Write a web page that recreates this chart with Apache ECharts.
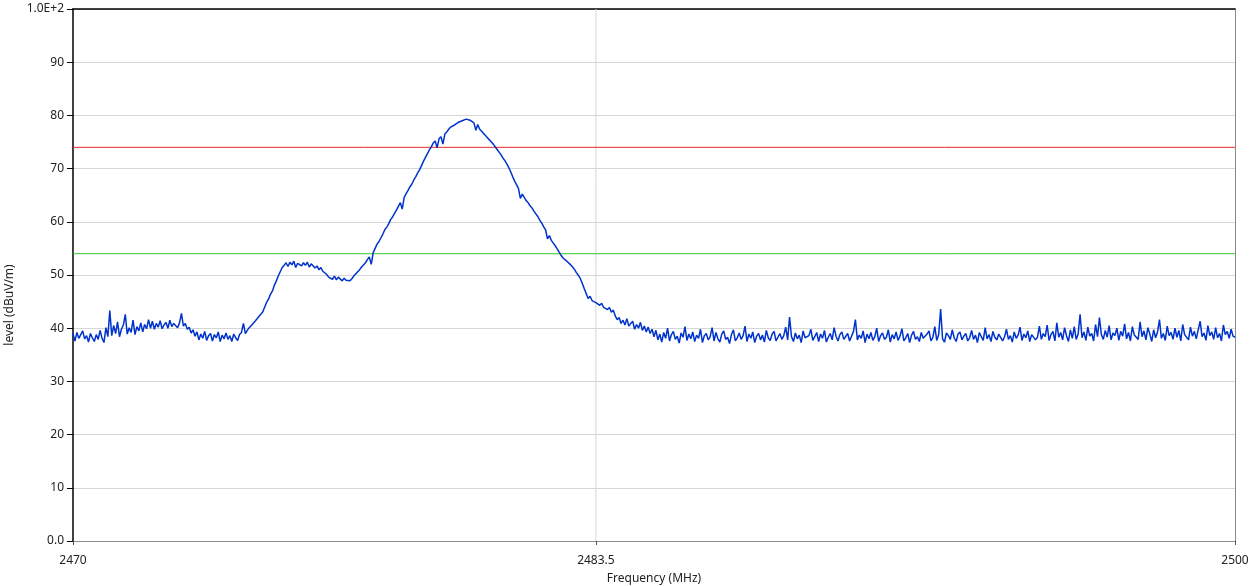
<!DOCTYPE html>
<html>
<head>
<meta charset="utf-8">
<script src="https://cdn.jsdelivr.net/npm/echarts@6/dist/echarts.min.js"></script>
<style>
html,body{margin:0;padding:0;background:#fff;}
#chart{width:1256px;height:586px;}
</style>
</head>
<body>
<div id="chart"></div>
<script>
// Frequency sweep: first point and spacing (MHz)
const freqStart = 2470;
const freqStep = 0.05;
// Measured level (dBuV/m), one value per 0.05 MHz, 2470.00 .. 2500.00
const level = [
38.9,37.6,39.2,38.1,37.8,39.5,38.0,38.6,37.4,39.0,38.2,37.5,38.8,37.9,39.6,38.1,37.3,40.1,38.4,43.3,
38.6,40.5,39.0,41.2,38.4,39.8,40.6,42.6,38.9,40.1,39.2,41.5,38.8,40.3,39.5,41.0,39.3,40.7,39.9,41.6,
40.0,41.3,39.8,40.9,40.2,41.4,39.9,40.6,41.1,40.0,41.5,40.3,40.9,41.2,40.1,41.0,42.8,40.4,40.9,39.8,
40.2,39.1,39.7,38.5,39.3,37.8,38.9,38.1,39.4,37.7,38.6,39.0,37.6,38.8,38.2,39.3,37.5,38.7,38.0,39.1,
37.9,38.6,37.5,38.9,38.2,37.7,38.8,39.2,40.9,39.0,39.6,40.1,39.8,40.9,41.3,41.0,42.2,42.6,43.1,44.0,
44.9,45.5,46.4,47.0,48.1,48.9,49.8,50.6,51.4,51.8,52.3,51.6,52.4,51.9,52.6,51.4,52.2,52.5,51.7,52.3,
51.8,52.4,51.5,52.1,51.9,51.3,51.7,51.0,51.4,50.7,50.9,50.1,49.6,49.9,49.2,49.8,49.1,49.6,49.4,48.9,
49.4,49.0,48.7,48.9,49.3,49.8,50.1,50.6,51.0,51.5,51.9,52.3,52.9,53.4,52.0,54.2,55.0,55.8,56.3,57.0,
57.7,58.5,59.0,59.6,60.4,60.9,61.6,62.2,62.9,63.6,62.4,64.6,65.3,65.9,66.6,67.1,67.9,68.5,69.2,69.8,
70.6,71.4,72.1,72.8,73.5,74.1,74.8,75.2,73.9,75.6,76.0,74.6,76.5,76.9,77.4,77.8,78.0,78.2,78.5,78.7,
78.9,79.0,79.2,79.3,79.2,79.1,78.9,78.6,77.2,78.3,77.4,77.0,76.6,76.2,75.8,75.4,75.0,74.6,74.1,73.6,
73.1,72.6,72.0,71.5,70.9,70.2,69.4,68.5,67.7,67.0,66.3,64.4,65.2,64.6,64.0,63.6,63.0,62.6,62.0,61.5,
61.0,60.3,59.8,59.1,58.5,56.8,57.4,56.5,56.0,55.5,54.9,54.3,53.7,53.2,53.0,52.6,52.4,51.9,51.5,51.0,
50.4,49.9,49.3,48.4,47.4,46.5,45.6,46.0,45.2,45.5,44.8,45.1,44.3,44.7,43.9,44.2,43.5,43.9,43.0,43.4,
42.3,41.6,42.0,40.9,41.5,40.6,41.8,40.4,40.9,41.3,39.8,40.7,40.0,41.1,39.6,40.4,39.3,40.2,39.0,39.8,
38.4,39.6,37.8,38.9,37.4,39.2,38.1,40.0,37.6,38.8,39.4,37.9,38.5,37.2,39.1,38.3,40.3,37.7,38.9,38.0,
39.3,37.5,38.7,38.1,39.8,37.3,38.6,39.0,37.8,38.4,40.1,37.6,39.2,38.0,37.4,38.9,39.5,37.9,38.3,37.1,
38.8,39.7,37.6,38.2,39.1,37.9,38.6,40.4,37.5,38.9,38.1,39.3,37.3,38.5,39.0,37.8,38.7,37.4,39.6,38.2,
37.7,38.9,39.4,37.6,38.3,39.0,37.9,38.6,40.2,37.8,42.1,38.4,37.5,39.1,38.0,38.7,37.3,39.5,38.2,37.9,
38.6,39.8,37.7,38.4,39.2,37.5,38.9,38.1,39.6,37.4,38.3,39.0,37.8,40.1,38.5,37.6,38.8,39.3,37.9,38.2,
39.0,37.6,38.5,39.4,41.6,37.8,38.7,38.1,39.5,37.3,38.9,38.0,39.2,37.7,38.4,40.0,37.5,38.6,39.1,37.9,
38.3,39.7,37.4,38.8,38.0,39.3,37.7,38.5,39.9,37.6,38.2,39.0,37.3,38.7,39.4,37.9,38.4,37.5,39.2,38.1,
37.8,38.9,39.5,37.6,38.3,40.3,37.7,38.8,43.6,38.0,37.4,39.1,38.6,37.9,39.7,38.2,37.5,38.9,39.3,37.8,
38.5,39.0,37.6,38.2,39.6,37.9,38.7,37.3,39.2,38.4,37.7,40.1,38.0,38.8,37.5,39.4,38.3,37.8,38.9,39.1,
37.6,38.4,39.8,37.9,38.6,37.4,39.3,38.1,38.7,40.2,37.7,38.9,38.2,39.5,37.5,38.8,39.1,37.8,38.3,40.4,
37.9,39.0,38.4,40.6,37.7,38.8,39.4,37.6,41.0,38.3,39.2,37.8,40.1,38.6,37.5,39.7,38.1,40.3,37.9,38.9,
42.6,38.2,39.3,37.7,40.2,38.5,39.0,37.6,40.7,38.4,42.0,38.8,37.9,39.6,38.3,40.5,37.8,39.1,38.6,40.0,
37.7,39.4,38.5,40.8,38.0,39.2,37.6,40.3,38.7,39.0,37.9,41.2,38.4,39.5,37.8,40.1,38.9,37.5,39.7,38.2,
39.3,41.6,38.1,39.0,37.7,40.4,38.6,39.2,37.9,40.0,38.3,39.6,37.6,40.7,38.8,39.1,37.8,40.2,38.5,39.4,
38.0,39.7,41.3,38.4,39.1,37.7,40.5,38.6,39.3,37.9,40.1,38.2,39.0,37.6,40.6,38.8,39.4,38.1,39.8,38.5,
38.3
];
// Limit lines (dBuV/m)
const limitRed = 74;
const limitGreen = 54;
// Axis ticks
const xTicks = [2470, 2483.5, 2500];
const xGridAt = 2483.5;
const xMin = 2470, xMax = 2500;
const yMin = 0, yMax = 100, yStep = 10;

const seriesData = level.map((v, i) => [+(freqStart + i * freqStep).toFixed(2), v]);

function guide(points, color, z) {
  return {
    type: 'line', data: points, silent: true, z: z,
    showSymbol: false, symbol: 'none',
    lineStyle: {color: color, width: 1, type: 'solid'},
    itemStyle: {color: color},
    emphasis: {disabled: true}
  };
}

const chart = echarts.init(document.getElementById('chart'), null, {renderer: 'canvas'});
const font = 'Noto Sans';
chart.setOption({
  animation: false,
  backgroundColor: '#ffffff',
  grid: {left: 73, right: 21, top: 9, bottom: 45, containLabel: false, outerBoundsMode: 'none'},
  xAxis: [{
    type: 'value', min: xMin, max: xMax, interval: 0.5,
    name: 'Frequency (MHz)', nameLocation: 'middle', nameGap: 32,
    nameTextStyle: {fontFamily: font, fontSize: 12, color: '#222'},
    axisLine: {show: true, lineStyle: {color: '#8a8a8a', width: 1}},
    axisTick: {show: true, customValues: xTicks, length: 4, inside: false, lineStyle: {color: '#555'}},
    axisLabel: {customValues: xTicks, margin: 14, fontFamily: font, fontSize: 12, color: '#222',
      formatter: v => String(v)},
    splitLine: {show: false}
  }, {
    type: 'value', position: 'top', min: xMin, max: xMax,
    axisLine: {show: true, onZero: false, lineStyle: {color: '#000', width: 1.5}},
    axisTick: {show: false}, axisLabel: {show: false}, splitLine: {show: false}
  }],
  yAxis: [{
    type: 'value', min: yMin, max: yMax, interval: yStep,
    name: 'level (dBuV/m)', nameLocation: 'middle', nameGap: 54,
    nameTextStyle: {fontFamily: font, fontSize: 12, color: '#222', padding: [0, 60, 0, 0]},
    axisLine: {show: true, onZero: false, lineStyle: {color: '#000', width: 1.5}},
    axisTick: {show: true, length: 6, lineStyle: {color: '#000'}},
    axisLabel: {margin: 9, fontFamily: font, fontSize: 12, color: '#222',
      formatter: v => v === 0 ? '0.0' : (v === 100 ? '1.0E+2' : String(v))},
    splitLine: {show: true, lineStyle: {color: '#d6d6d6', width: 1}}
  }, {
    type: 'value', position: 'right', min: yMin, max: yMax,
    axisLine: {show: true, onZero: false, lineStyle: {color: '#8a8a8a', width: 1}},
    axisTick: {show: false}, axisLabel: {show: false}, splitLine: {show: false}
  }],
  series: [
    guide([[xGridAt, yMin], [xGridAt, yMax]], '#d6d6d6', 1),
    guide([[xMin, limitRed], [xMax, limitRed]], '#f02828', 2),
    guide([[xMin, limitGreen], [xMax, limitGreen]], '#30c830', 2),
    {
      type: 'line',
      data: seriesData,
      showSymbol: false,
      symbol: 'none',
      lineStyle: {color: '#0033cc', width: 1.5},
      z: 3
    }
  ]
});
</script>
</body>
</html>
